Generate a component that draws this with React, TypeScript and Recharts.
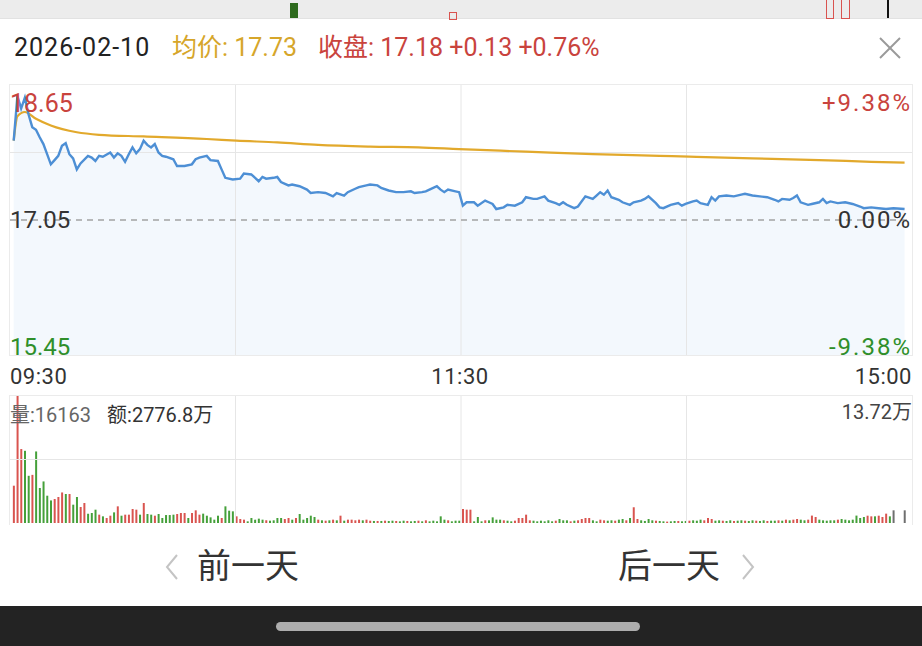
import { ComposedChart, Area, Line, XAxis, YAxis, ReferenceLine, BarChart, Bar, Cell } from 'recharts'

// minute index (0 = 09:30, 120 = 11:30/13:00, 240 = 15:00) and last price
const pricePoints: [number, number][] = [
  [0, 17.99], [1, 18.52], [2, 18.37], [3, 18.5], [4, 18.3], [5, 18.15], [6, 18.12], [7, 18.03], [8, 17.95], [9, 17.83],
  [10, 17.71], [11, 17.76], [12, 17.81], [13, 17.93], [14, 17.96], [15, 17.83], [16, 17.78], [17, 17.65], [18, 17.72], [20, 17.81],
  [21, 17.79], [22, 17.75], [23, 17.81], [24, 17.8], [26, 17.85], [27, 17.79], [28, 17.84], [29, 17.81], [30, 17.74], [31, 17.83],
  [32, 17.91], [33, 17.84], [34, 17.89], [35, 17.99], [36, 17.94], [37, 17.91], [38, 17.95], [39, 17.85], [40, 17.81], [41, 17.8],
  [43, 17.77], [44, 17.69], [46, 17.69], [48, 17.71], [49, 17.77], [50, 17.79], [52, 17.81], [53, 17.76], [55, 17.75], [56, 17.65],
  [57, 17.55], [59, 17.53], [61, 17.54], [62, 17.6], [64, 17.59], [66, 17.51], [67, 17.56], [68, 17.54], [70, 17.55], [71, 17.56],
  [72, 17.5], [74, 17.46], [75, 17.47], [77, 17.45], [79, 17.41], [80, 17.37], [82, 17.38], [84, 17.37], [86, 17.33], [87, 17.37],
  [89, 17.34], [90, 17.38], [92, 17.42], [93, 17.44], [95, 17.46], [96, 17.47], [98, 17.46], [99, 17.43], [101, 17.4], [103, 17.38],
  [105, 17.38], [107, 17.39], [108, 17.37], [110, 17.38], [111, 17.39], [112, 17.41], [114, 17.45], [115, 17.41], [116, 17.38], [117, 17.41],
  [119, 17.39], [120, 17.38], [121, 17.22], [122, 17.26], [124, 17.26], [125, 17.22], [127, 17.28], [128, 17.26], [129, 17.24], [130, 17.18],
  [132, 17.2], [133, 17.23], [135, 17.22], [137, 17.26], [138, 17.32], [140, 17.3], [141, 17.3], [143, 17.33], [144, 17.28], [146, 17.25],
  [147, 17.23], [148, 17.26], [149, 17.23], [151, 17.19], [152, 17.21], [154, 17.33], [156, 17.3], [157, 17.34], [158, 17.38], [159, 17.35],
  [160, 17.4], [161, 17.32], [163, 17.29], [164, 17.26], [166, 17.23], [167, 17.26], [169, 17.28], [170, 17.3], [171, 17.33], [173, 17.25],
  [174, 17.2], [175, 17.19], [177, 17.23], [179, 17.25], [180, 17.22], [181, 17.24], [183, 17.27], [184, 17.28], [185, 17.25], [187, 17.23],
  [188, 17.32], [189, 17.28], [190, 17.33], [192, 17.34], [194, 17.33], [196, 17.35], [197, 17.36], [199, 17.34], [201, 17.33], [203, 17.32],
  [205, 17.29], [206, 17.27], [207, 17.3], [209, 17.29], [210, 17.31], [211, 17.34], [212, 17.26], [214, 17.23], [215, 17.24], [217, 17.26],
  [218, 17.3], [219, 17.25], [220, 17.27], [222, 17.25], [224, 17.26], [226, 17.24], [228, 17.21], [229, 17.19], [231, 17.2], [233, 17.19],
  [235, 17.18], [237, 17.19], [240, 17.18],
]

// average price line
const avgPoints: [number, number][] = [
  [0, 17.99], [1, 18.28], [3, 18.33], [6, 18.25], [10, 18.17], [17, 18.09], [23, 18.06], [35, 18.04], [52, 18.01], [60, 17.99],
  [71, 17.97], [82, 17.94], [96, 17.92], [109, 17.91], [120, 17.89], [138, 17.86], [156, 17.83], [174, 17.81], [182, 17.8], [199, 17.78],
  [217, 17.76], [231, 17.74], [240, 17.73],
]

// per-minute volume (shares), index 0..240
const volume = [
  40300, 137200, 79900, 78000, 51000, 52000, 77300, 37800, 44900, 29500,
  24400, 25900, 28100, 33000, 31300, 31300, 19800, 28100, 17300, 21600,
  10000, 10800, 14400, 9000, 7200, 5400, 7900, 11500, 18000, 7900,
  9000, 9000, 15100, 14400, 9000, 21600, 9700, 9000, 7900, 9700,
  5400, 8600, 8600, 9000, 9700, 10800, 10800, 5400, 10800, 13700,
  9000, 10100, 7900, 6100, 3600, 7900, 5400, 18000, 13300, 12600,
  7200, 4300, 3600, 1800, 5400, 3600, 4700, 3600, 2900, 2500,
  2900, 5400, 5400, 4300, 5400, 3600, 5400, 9700, 3600, 5400,
  7900, 6500, 3600, 2900, 2500, 2900, 3600, 2900, 7900, 2500,
  3600, 3600, 2900, 3600, 2900, 3600, 2500, 2200, 2200, 2200,
  2500, 2200, 2500, 2200, 1800, 2500, 2200, 1800, 2200, 2500,
  1800, 2900, 1800, 2500, 1800, 7200, 3600, 2900, 1800, 2500,
  2500,
  15100, 14400, 14400, 1800, 6500, 1800, 2900, 2900, 6100, 3600,
  3600, 2900, 2500, 1800, 2500, 5400, 5400, 9000, 2900, 2500,
  1800, 2500, 1800, 2900, 1800, 2500, 4300, 2900, 2900, 1800,
  2500, 2900, 4300, 5400, 5400, 2900, 1800, 3600, 2900, 2500,
  2900, 2500, 3600, 4300, 2900, 5400, 17000, 4300, 2900, 2200,
  4300, 2900, 2500, 2200, 1800, 1500, 1800, 2200, 2200, 1800,
  2200, 2500, 2900, 2500, 3600, 2900, 5400, 4300, 2500, 2900,
  2500, 2200, 2900, 2200, 2500, 2900, 2500, 2200, 2900, 2500,
  2200, 2900, 2200, 2500, 2500, 2900, 2500, 3600, 2900, 3600,
  4300, 3600, 2900, 3600, 8000, 6500, 3600, 2900, 2500, 2900,
  2900, 3600, 4300, 3600, 2900, 3600, 8000, 5400, 6500, 7900,
  7200, 7200, 7900, 6500, 10100, 7200, 13700, 0, 0, 13700,
]

// r = up (red), g = down (green), n = flat
const volDir = (
  'rrrggrgggg' + 'grrrgrggrr' + 'gggrgrrgrg' + 'rrrrgrggrg' + 'ggggrrrgrr' + 'rgggggrggg' +
  'rrrgggggrg' + 'gggrrgrggg' + 'ggrgrgrgrg' + 'rrrrgrrgrg' + 'rggrggrggr' + 'grgggggrgg' +
  'g' +
  'rrrgggrggg' + 'grggrrrrrg' + 'gggggrgggr' + 'grrrrggrrg' + 'grggrgrrgg' + 'ggrggrggrg' +
  'grgggrrrgg' + 'rggrggrggr' + 'ggrggrgrgr' + 'rggrrrgggg' + 'grgggggggr' + 'rgrrrgnnnn'
).split('')

const PRE_CLOSE = 17.05
const PRICE_LOW = 15.45
const PRICE_HIGH = 18.65
const VOL_MAX = 137200
const X_DOMAIN: [number, number] = [-1, 242]
const GRID_X = [59.75, 120.5, 181.25]

const RED = '#c9433d'
const GREEN = '#2f8f2a'
const GOLD = '#d6a62a'
const FONT = 'Roboto, "Noto Sans CJK SC", sans-serif'

const priceData = pricePoints.map(([t, p]) => ({ t, p }))
const avgData = avgPoints.map(([t, a]) => ({ t, a }))
const volData = volume.map((v, t) => ({ t, v }))
const barColor = (d: string) => (d === 'r' ? '#d9544f' : d === 'g' ? '#45a03a' : '#6f6f6f')

function Txt({ left, right, top, size, color, children, center, spacing }: {
  left?: number; right?: number; top: number; size: number; color: string; children: React.ReactNode; center?: boolean; spacing?: number
}) {
  return (
    <div style={{
      position: 'absolute', left, right, top, fontSize: size, lineHeight: `${size + 2}px`, color,
      whiteSpace: 'nowrap', letterSpacing: spacing, transform: center ? 'translateX(-50%)' : undefined,
    }}>
      {children}
    </div>
  )
}

export default function App() {
  return (
    <div style={{ position: 'fixed', left: 0, top: 0, width: 922, height: 646, overflow: 'hidden', background: '#fff', fontFamily: FONT }}>
      {/* dimmed page behind the sheet */}
      <div style={{ position: 'absolute', left: 0, top: 0, width: 922, height: 18, background: '#ececec', borderBottom: '1px solid #e2e2e2' }} />
      <div style={{ position: 'absolute', left: 290, top: 3, width: 8, height: 15, background: '#2e6a1e' }} />
      <div style={{ position: 'absolute', left: 449, top: 12, width: 6, height: 6, border: '1px solid #d9534f' }} />
      <div style={{ position: 'absolute', left: 826, top: 0, width: 6, height: 18, border: '1px solid #d9534f', borderTop: 'none' }} />
      <div style={{ position: 'absolute', left: 841, top: 0, width: 7, height: 18, border: '1px solid #d9534f', borderTop: 'none' }} />
      <div style={{ position: 'absolute', left: 887, top: 0, width: 2, height: 18, background: '#111' }} />

      {/* header */}
      <Txt left={14} top={34} size={25} color='#222' spacing={1}>2026-02-10</Txt>
      <Txt left={172} top={34} size={25} color={GOLD}>均价: 17.73</Txt>
      <Txt left={318} top={34} size={25} color={RED}>收盘: 17.18 +0.13 +0.76%</Txt>
      <svg style={{ position: 'absolute', left: 879, top: 37 }} width={22} height={22}>
        <line x1={1} y1={1} x2={21} y2={21} stroke='#9a9a9a' strokeWidth={2} />
        <line x1={21} y1={1} x2={1} y2={21} stroke='#9a9a9a' strokeWidth={2} />
      </svg>

      {/* price panel */}
      <div style={{ position: 'absolute', left: 9, top: 84, width: 904, height: 272, boxSizing: 'border-box', border: '1px solid #ebebeb' }} />
      <div style={{ position: 'absolute', left: 10, top: 85 }}>
        <ComposedChart width={902} height={270} margin={{ top: 0, right: 0, bottom: 0, left: 0 }}>
          <XAxis type='number' dataKey='t' domain={X_DOMAIN} allowDataOverflow hide />
          <YAxis type='number' domain={[PRICE_LOW, PRICE_HIGH]} allowDataOverflow hide />
          {GRID_X.map((x) => <ReferenceLine key={x} x={x} stroke='#e6e6e6' strokeWidth={1} />)}
          <ReferenceLine y={17.85} stroke='#e6e6e6' strokeWidth={1} />
          <Area data={priceData} dataKey='p' type='linear' baseValue='dataMin' stroke='none' fill='#eef5fc' fillOpacity={0.7} isAnimationActive={false} />
          <ReferenceLine y={PRE_CLOSE} stroke='#a3a3a3' strokeWidth={1.5} strokeDasharray='6 5' />
          <Line data={avgData} dataKey='a' type='monotone' stroke='#e2a92c' strokeWidth={2.2} dot={false} isAnimationActive={false} />
          <Line data={priceData} dataKey='p' type='linear' stroke='#4d8fd5' strokeWidth={2.4} dot={false} isAnimationActive={false} />
        </ComposedChart>
      </div>
      <Txt left={10} top={90} size={25} color={RED}>18.65</Txt>
      <Txt left={10} top={207} size={24} color='#333'>17.05</Txt>
      <Txt left={10} top={334} size={24} color={GREEN}>15.45</Txt>
      <Txt right={10} top={90} size={24} color={RED} spacing={2}>+9.38%</Txt>
      <Txt right={10} top={207} size={24} color='#333' spacing={2}>0.00%</Txt>
      <Txt right={10} top={334} size={24} color={GREEN} spacing={2}>-9.38%</Txt>

      {/* time axis */}
      <Txt left={10} top={365} size={22} color='#333' spacing={0.5}>09:30</Txt>
      <Txt left={460} top={365} size={22} color='#333' spacing={0.5} center>11:30</Txt>
      <Txt right={10} top={365} size={22} color='#333' spacing={0.5}>15:00</Txt>

      {/* volume panel */}
      <div style={{ position: 'absolute', left: 9, top: 395, width: 904, height: 130, boxSizing: 'border-box', border: '1px solid #ebebeb', borderBottom: 'none' }} />
      <div style={{ position: 'absolute', left: 10, top: 396 }}>
        <BarChart width={902} height={127} data={volData} margin={{ top: 0, right: 0, bottom: 0, left: 0 }}>
          <XAxis type='number' dataKey='t' domain={X_DOMAIN} allowDataOverflow hide />
          <YAxis type='number' domain={[0, VOL_MAX]} allowDataOverflow hide />
          {GRID_X.map((x) => <ReferenceLine key={x} x={x} stroke='#e6e6e6' strokeWidth={1} />)}
          <ReferenceLine y={VOL_MAX / 2} stroke='#e6e6e6' strokeWidth={1} />
          <Bar dataKey='v' barSize={2} isAnimationActive={false}>
            {volData.map((_, i) => <Cell key={`v-${i}`} fill={barColor(volDir[i])} />)}
          </Bar>
        </BarChart>
      </div>
      <Txt left={10} top={404} size={20} color='#666'>
        量:16163<span style={{ color: '#333', marginLeft: 16 }}>额:2776.8万</span>
      </Txt>
      <Txt right={10} top={401} size={20} color='#444'>13.72万</Txt>

      {/* day navigation */}
      <svg style={{ position: 'absolute', left: 164, top: 553 }} width={16} height={28}>
        <polyline points='13,2 3,14 13,26' fill='none' stroke='#c4c4c4' strokeWidth={2} />
      </svg>
      <Txt left={197} top={548} size={34} color='#333'>前一天</Txt>
      <Txt left={618} top={548} size={34} color='#333'>后一天</Txt>
      <svg style={{ position: 'absolute', left: 740, top: 553 }} width={16} height={28}>
        <polyline points='3,2 13,14 3,26' fill='none' stroke='#c4c4c4' strokeWidth={2} />
      </svg>

      {/* system bar */}
      <div style={{ position: 'absolute', left: 0, top: 606, width: 922, height: 40, background: '#232323' }} />
      <div style={{ position: 'absolute', left: 276, top: 622, width: 364, height: 9, borderRadius: 5, background: '#adadad' }} />
    </div>
  )
}
